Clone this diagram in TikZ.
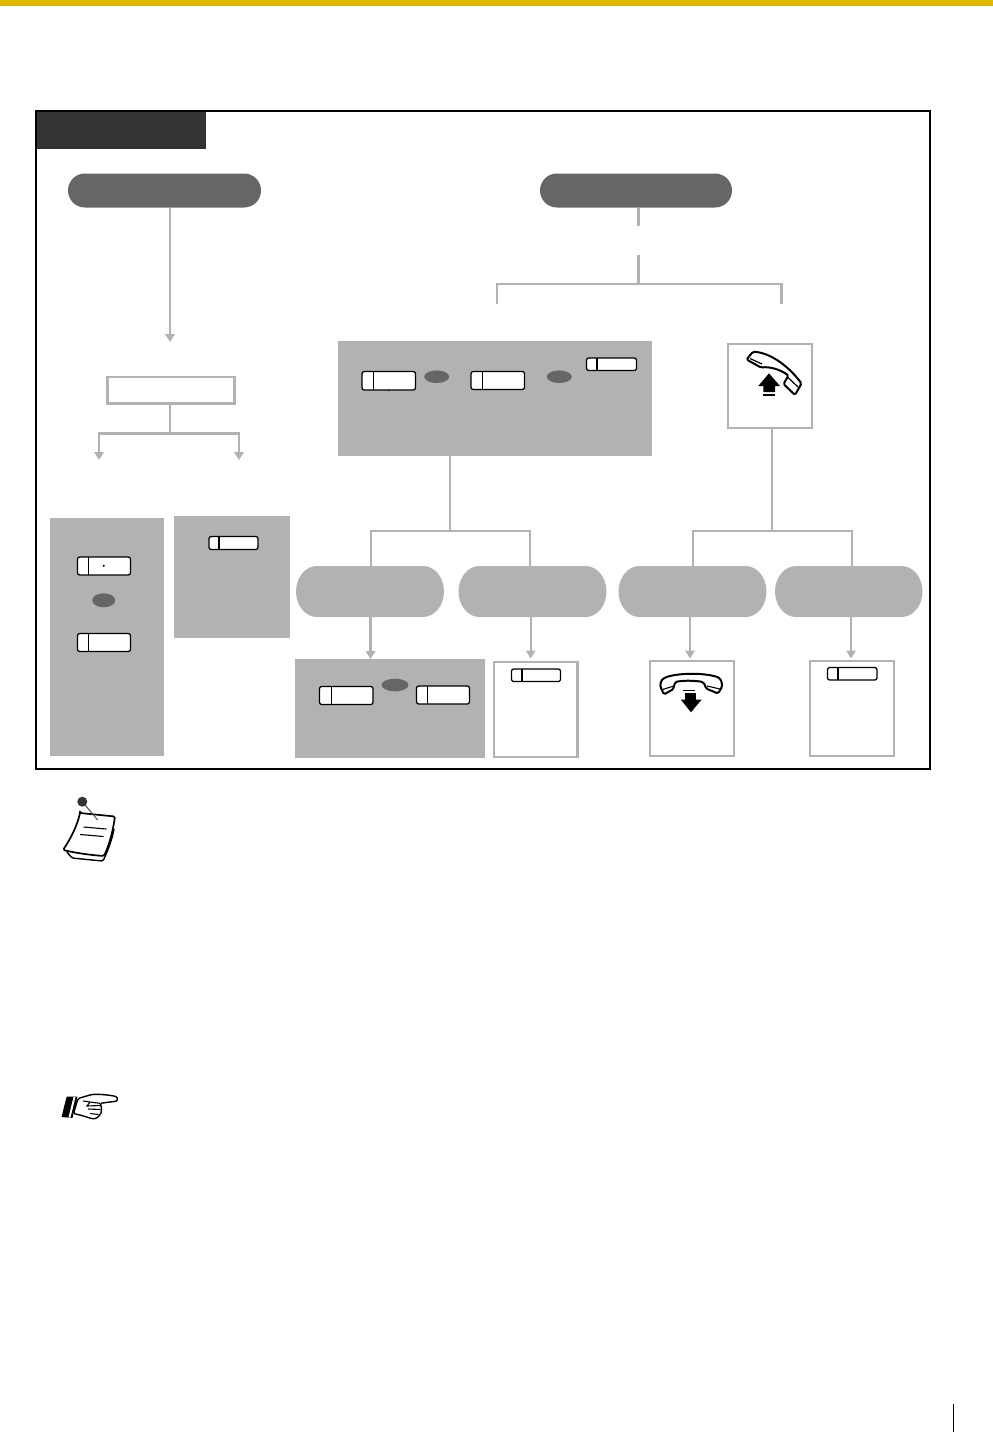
\documentclass[tikz,border=0pt]{standalone}
\usetikzlibrary{arrows.meta,calc}
\definecolor{gold}{HTML}{E0B700}
\definecolor{lgray}{HTML}{B2B2B2}
\definecolor{mgray}{HTML}{666666}
\definecolor{dgray}{HTML}{333333}
\tikzset{
  x=1pt,y=-1pt,
  conn/.style={draw=lgray,line width=2.2pt},
  connarrow/.style={conn,-{Triangle[width=9.4pt,length=8pt]}},
  greybox/.style={fill=lgray},
  whitebox/.style={draw=lgray,line width=2.4pt,fill=white},
  keycap/.style={draw=black,line width=1.25pt,fill=white,rounded corners=2.2pt},
  darkpill/.style={fill=mgray,rounded corners=16.9pt},
  icon/.style={draw=black,line width=2pt,line join=round,fill=white,rounded corners=1.5pt},
  iconfill/.style={fill=black},
}
\newcommand{\placebox}[6]{%
  \pgfmathsetmacro{\bw}{#5-#3}\pgfmathsetmacro{\bh}{#6-#4}%
  \pgfmathsetmacro{\bx}{(#3+#5)/2}\pgfmathsetmacro{\by}{(#4+#6)/2}%
  \node[#1,inner sep=0pt,outer sep=0pt,minimum width=\bw pt,minimum height=\bh pt] (#2) at (\bx,\by) {};}
\newcommand{\keybox}[6]{%
  \placebox{keycap}{#1}{#2}{#3}{#4}{#5}%
  \draw[black,line width=1.1pt] (#6,#3) -- (#6,#5);}
\newcommand{\softpill}[5]{%
  \fill[lgray] (#2+21,#3) -- (#4-21,#3) arc[start angle=-90,end angle=0,x radius=21,y radius=25.5]
    arc[start angle=0,end angle=90,x radius=21,y radius=25.5]
    -- (#2+21,#5) arc[start angle=90,end angle=180,x radius=21,y radius=25.5]
    arc[start angle=180,end angle=270,x radius=21,y radius=25.5] -- cycle;
  \placebox{}{#1}{#2}{#3}{#4}{#5}}
\begin{document}
\begin{tikzpicture}
\useasboundingbox (0,0) rectangle (993,1432);
\fill[white] (0,0) rectangle (993,1432);
\fill[gold] (0,0) rectangle (993,6);
\placebox{draw=black,line width=2pt}{frame}{36}{111}{930.3}{768.5}
\placebox{fill=dgray}{tab}{37}{112}{206}{149}
\placebox{darkpill}{pillL}{68}{173.5}{261}{207.5}
\placebox{darkpill}{pillR}{540}{173.5}{732}{207.5}
% free coordinates
\coordinate (a1) at (170,342);
\coordinate (j1) at (170,433.5);
\coordinate (a2) at (99,460);
\coordinate (a3) at (239,460);
\coordinate (r1) at (638.5,226);
\coordinate (r2) at (638.5,255);
\coordinate (j2) at (638.5,284);
\coordinate (e1) at (497,304);
\coordinate (e2) at (781.5,304);
\coordinate (j3) at (450,531);
\coordinate (j4) at (772,531);
\coordinate (b1) at (371,566);
\coordinate (b2) at (530,566);
\coordinate (b3) at (693,566);
\coordinate (b4) at (852,566);
\coordinate (t1) at (370.5,659);
\coordinate (t2) at (530.7,658.5);
\coordinate (t3) at (690,658.5);
\coordinate (t4) at (851,658.5);
% boxes
\placebox{whitebox}{opt}{107.5}{377}{234.5}{403.5}
\placebox{greybox}{gL}{50}{518}{164}{756}
\placebox{greybox}{gM}{174}{516}{290}{638}
\placebox{greybox}{gBig}{338}{341}{652}{456}
\placebox{whitebox}{hsUp}{728}{344}{811.8}{428}
\softpill{p1}{296}{566}{444}{617}
\softpill{p2}{458.5}{566}{606.5}{617}
\softpill{p3}{618.5}{566}{766.5}{617}
\softpill{p4}{775}{566}{922.5}{617}
\placebox{greybox}{gB}{295}{659}{485}{758}
\placebox{whitebox}{w1}{494}{662}{577.3}{757}
\placebox{whitebox}{w2}{650}{661}{733.7}{756}
\placebox{whitebox}{w3}{810}{661}{894}{756}
% connectors
\draw[connarrow] (pillL.south -| a1) -- (a1);
\draw[conn] (opt.south -| j1) -- (j1);
\draw[conn,line cap=rect] (j1 -| a2) -- (j1 -| a3);
\draw[connarrow] (j1 -| a2) -- (a2);
\draw[connarrow] (j1 -| a3) -- (a3);
\draw[conn] (pillR.south -| r1) -- (r1);
\draw[conn] (r2) -- (j2);
\draw[conn,line join=miter] (e1) -- (j2 -| e1) -- (j2 -| e2) -- (e2);
\draw[conn] (gBig.south -| j3) -- (j3);
\draw[conn,line join=miter] (b1) -- (j3 -| b1) -- (j3 -| b2) -- (b2);
\draw[conn] (hsUp.south -| j4) -- (j4);
\draw[conn,line join=miter] (b3) -- (j4 -| b3) -- (j4 -| b4) -- (b4);
\draw[connarrow] (p1.south -| t1) -- (t1);
\draw[connarrow] (p2.south -| t2) -- (t2);
\draw[connarrow] (p3.south -| t3) -- (t3);
\draw[connarrow] (p4.south -| t4) -- (t4);
% keys
\keybox{k1}{77.5}{557}{130.5}{575}{88.5}
\keybox{k2}{77.5}{633.5}{130.5}{651.5}{88.5}
\keybox{k3}{209}{536.5}{258}{549.5}{219}
\keybox{k4}{362}{371.5}{415.5}{390}{373.7}
\keybox{k5}{471}{371.5}{524.5}{389.5}{482.5}
\keybox{k6}{586.5}{358}{636.5}{370.5}{597}
\keybox{k7}{319.5}{686.5}{373}{704.5}{331.3}
\keybox{k8}{416.5}{686}{469.5}{704}{427.7}
\keybox{k9}{511.5}{669}{560.5}{681.5}{522}
\keybox{k10}{827.5}{667.5}{877}{680}{838}
% separating ovals
\fill[mgray] (103.7,600.3) ellipse[x radius=11.5,y radius=7];
\fill[mgray] (436.7,376.7) ellipse[x radius=12.5,y radius=6.3];
\fill[mgray] (559.3,376.7) ellipse[x radius=12.5,y radius=6.3];
\fill[mgray] (395,685) ellipse[x radius=13.5,y radius=6.3];
% tiny dots
\fill[black] (103.7,565.7) circle[radius=1.1];
\fill[black] (388.5,390.3) circle[radius=0.7];
\fill[black] (346.5,704.5) circle[radius=0.7];
% handset up
\draw[icon] (746.5,359.5) -- (753,351.7) .. controls (772,353) and (790,368) .. (801.5,383.5)
  -- (795,395) -- (783.5,384) -- (788.5,375.5) .. controls (780,369.5) and (770,366.5) .. (761,367.5) -- cycle;
\draw[black,line width=1.2pt] (750,358.5) -- (762,364);
\draw[black,line width=1.2pt] (787,376.5) -- (798,387);
\fill[iconfill] (769,373.3) -- (780,386) -- (775,386) -- (775,392) -- (763.3,392) -- (763.3,386) -- (758.3,386) -- cycle;
\fill[iconfill] (762.7,394.2) rectangle (775,396);
% handset down
\draw[icon] (660.5,687) .. controls (660,680) and (664,678) .. (668,676.5) .. controls (682,673) and (702,673) .. (716,676.5)
  .. controls (720,678) and (722,681) .. (722,687) -- (718,693.5) -- (706,688.5) .. controls (705,685) and (704,682) .. (700,681.5)
  .. controls (692,680.5) and (684,680.5) .. (678,681.5) .. controls (675,682) and (674,685) .. (673.5,689) -- (664,694.5) -- cycle;
\draw[black,line width=1.1pt] (662.5,689.5) -- (674,686);
\draw[black,line width=1.1pt] (707,686) -- (720,689);
\fill[iconfill] (682.7,689.5) rectangle (695,691.3);
\fill[iconfill] (685,693) rectangle (696,700);
\fill[iconfill] (680.7,699.5) -- (701.7,699.5) -- (691,712.3) -- cycle;
% note icon
\draw[icon,line width=1.4pt] (67,852) -- (72,858) .. controls (82,859) and (92,860) .. (103,861) .. controls (108,850) and (112,840) .. (114,829);
\draw[icon,line width=1.7pt] (80,813) -- (115,816.5) .. controls (113,830) and (110,843) .. (104,856)
  .. controls (90,855) and (76,853) .. (63,850) .. controls (71,838) and (77,826) .. (80,813) -- cycle;
\draw[black,line width=1.1pt] (83.5,827) -- (106.5,829);
\draw[black,line width=1.1pt] (80,834.5) -- (103.5,836.5);
\draw[black!70,line width=1pt] (82.3,801.7) -- (97.7,820);
\fill[black!80] (82.3,801.7) circle[radius=5];
% pointing hand
\fill[black] (66.7,1096.5) -- (77.5,1096.5) -- (72.5,1118) -- (61.5,1117) -- cycle;
\fill[white] (73.5,1097) -- (75.5,1097) -- (70.5,1117.5) -- (68.5,1117.5) -- cycle;
\draw[icon,line width=1.4pt] (78,1098.5) -- (91.7,1094.5) .. controls (100,1094) and (108,1095) .. (114,1096)
  .. controls (118,1097) and (118,1101) .. (114,1101.5) -- (100,1103.3) .. controls (102,1108) and (102,1113) .. (98.3,1116.5)
  .. controls (96,1119) and (93,1119) .. (90,1118) -- (80,1115) -- (73.5,1113.5) -- cycle;
\draw[black,line width=1.1pt] (83,1101) -- (90,1102) -- (100,1103.3);
\draw[black,line width=1.1pt] (90,1102) -- (87,1106) -- (100,1105.5);
\draw[black,line width=1.1pt] (88,1109) -- (100.5,1109.5);
\draw[black,line width=1.1pt] (90,1113.5) -- (98.5,1114.5);
% page rule
\draw[black,line width=1pt] (953.3,1404) -- (953.3,1431.7);
\end{tikzpicture}
\end{document}
